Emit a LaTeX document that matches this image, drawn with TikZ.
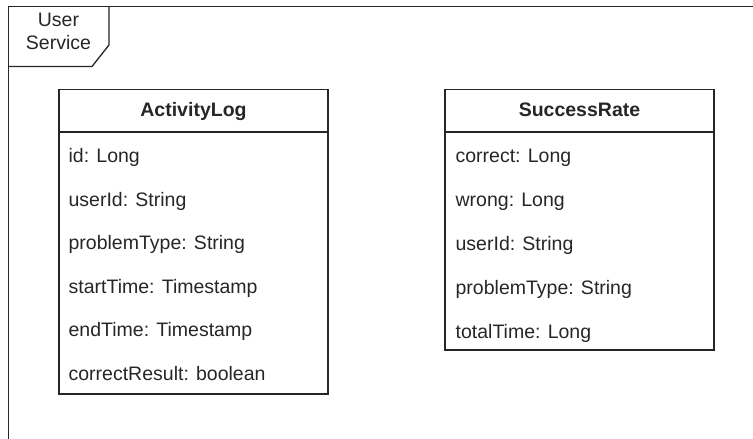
\documentclass[tikz,border=0pt]{standalone}
\usepackage{fontspec}
\setmainfont{Liberation Sans}
\begin{document}
\begin{tikzpicture}[x=1pt,y=-1pt,
  line width=1.3pt,
  umltext/.style={inner sep=0pt, font=\fontsize{19.5}{23}\selectfont, text=black!85},
  classbox/.style={draw=black!85, line width=1.3pt},
  attr/.style={umltext, anchor=base west},
  ctitle/.style={umltext, anchor=base, font=\fontsize{19.5}{23}\selectfont\bfseries}]
  \useasboundingbox (0,0) rectangle (753,439);
  \clip (0,0) rectangle (753,439);

  % package frame with its name tab
  \draw[black!85] (8.5,460) -- (8.5,6.5) -- (770,6.5);
  \draw[black!85] (109,6.5) -- (109,45) -- (92,66.5) -- (8.5,66.5);
  \node[umltext, anchor=base] (pkgA) at (58.5,26) {User};
  \node[umltext, anchor=base] (pkgB) at (58.5,49.5) {Service};

  % ActivityLog class
  \path[classbox] (59,89.5) rectangle (328,394);
  \draw[classbox] (59,132) -- (328,132);
  \node[ctitle] (alTitle) at (193.5,116) {ActivityLog};
  \node[attr] (al1) at (68,162.5) {id: Long};
  \node[attr] (al2) at (68,206.1) {userId: String};
  \node[attr] (al3) at (68,249.7) {problemType: String};
  \node[attr] (al4) at (68,293.3) {startTime: Timestamp};
  \node[attr] (al5) at (68,336.9) {endTime: Timestamp};
  \node[attr] (al6) at (68,380.5) {correctResult: boolean};

  % SuccessRate class
  \path[classbox] (445,89.5) rectangle (714,350);
  \draw[classbox] (445,132) -- (714,132);
  \node[ctitle] (srTitle) at (579.5,116) {SuccessRate};
  \node[attr] (sr1) at (455,162.5) {correct: Long};
  \node[attr] (sr2) at (455,206.4) {wrong: Long};
  \node[attr] (sr3) at (455,250.3) {userId: String};
  \node[attr] (sr4) at (455,294.2) {problemType: String};
  \node[attr] (sr5) at (455,338.1) {totalTime: Long};
\end{tikzpicture}
\end{document}
